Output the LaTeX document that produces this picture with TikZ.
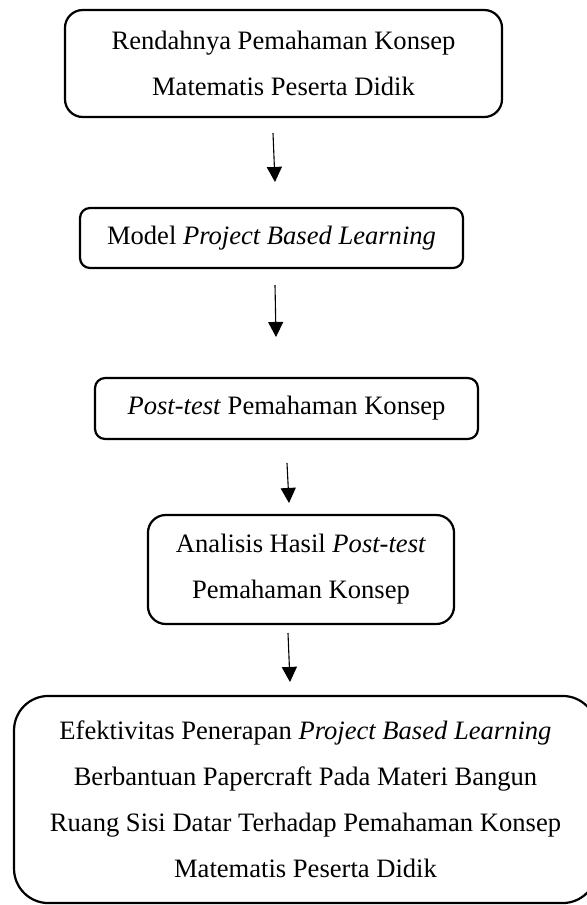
\documentclass[tikz,border=0pt]{standalone}
\usepackage{fontspec}
\setmainfont{Liberation Serif}
\usetikzlibrary{arrows.meta}
\begin{document}
\begin{tikzpicture}[x=0.4515pt, y=-0.4515pt,
  box/.style={draw, line width=1pt, align=center, inner sep=0pt,
    font=\fontsize{12pt}{20.7pt}\selectfont},
  arr/.style={line width=0.5pt, -{Triangle[width=6.8pt,length=6.8pt]}}]
\fill[white] (0,0) rectangle (587,905);
\useasboundingbox (0,0) rectangle (587,905);
\node[box, rounded corners=8pt, minimum width=197.3pt, minimum height=48.3pt] (b1) at (283.5,63.5)
  {Rendahnya Pemahaman Konsep\\Matematis Peserta Didik};
\node[box, rounded corners=4.5pt, minimum width=172.9pt, minimum height=27.1pt] (b2) at (271.5,238)
  {Model \textit{Project Based Learning}};
\node[box, rounded corners=4.5pt, minimum width=172.9pt, minimum height=27.5pt] (b3) at (286.5,408.5)
  {\textit{Post-test} Pemahaman Konsep};
\node[box, rounded corners=8pt, minimum width=138.2pt, minimum height=49.2pt] (b4) at (301,569.5)
  {Analisis Hasil \textit{Post-test}\\Pemahaman Konsep};
\node[box, rounded corners=15.5pt, minimum width=263.2pt, minimum height=93.5pt] (b5) at (305.5,799.5)
  {Efektivitas Penerapan \textit{Project Based Learning}\\Berbantuan Papercraft Pada Materi Bangun\\Ruang Sisi Datar Terhadap Pemahaman Konsep\\Matematis Peserta Didik};
\coordinate (a1s) at (273,133);
\coordinate (a1e) at (275,182);
\coordinate (a2s) at (275,285);
\coordinate (a2e) at (276,337);
\coordinate (a3s) at (287,463);
\coordinate (a3e) at (289,503);
\coordinate (a4s) at (288,633);
\coordinate (a4e) at (290,682);
\draw[arr] (a1s) -- (a1e);
\draw[arr] (a2s) -- (a2e);
\draw[arr] (a3s) -- (a3e);
\draw[arr] (a4s) -- (a4e);
\end{tikzpicture}
\end{document}
